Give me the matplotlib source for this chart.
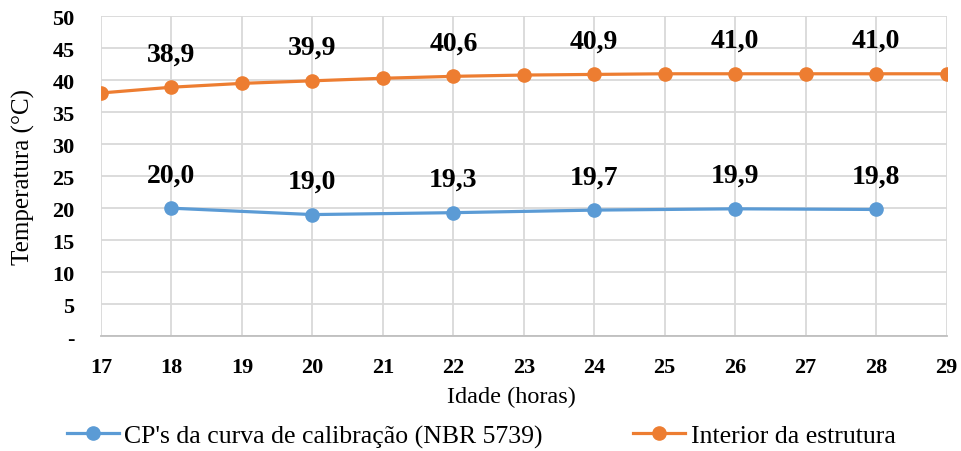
import matplotlib.pyplot as plt
from matplotlib.ticker import FixedLocator, FuncFormatter

plt.rcParams['font.family'] = ['Liberation Serif', 'DejaVu Serif']

# idade (horas) e temperaturas medidas
horas_cp = [18, 20, 22, 24, 26, 28]
temp_cp = [20.0, 19.0, 19.3, 19.7, 19.9, 19.8]

horas_est = [17, 18, 19, 20, 21, 22, 23, 24, 25, 26, 27, 28, 29]
temp_est = [38.0, 38.9, 39.5, 39.9, 40.3, 40.6, 40.8, 40.9, 41.0, 41.0, 41.0, 41.0, 41.0]
rotulos_est = [18, 20, 22, 24, 26, 28]  # horas com valor escrito

azul = '#5B9BD5'
laranja = '#ED7D31'

fig = plt.figure(figsize=(9.62, 4.52), dpi=100)
ax = fig.add_axes([0.105, 0.254, 0.879, 0.708])

ax.plot(horas_cp, temp_cp, color=azul, lw=2.3, marker='o', ms=9.5,
        label="CP's da curva de calibração (NBR 5739)", zorder=3)
ax.plot(horas_est, temp_est, color=laranja, lw=2.3, marker='o', ms=9.5,
        label='Interior da estrutura', zorder=3)


def rotulo(h, t):
    ax.annotate(f'{t:.1f}'.replace('.', ','), (h, t), xytext=(0, 24),
                textcoords='offset points', ha='center', va='center',
                fontsize=20, fontweight='bold')


for h, t in zip(horas_cp, temp_cp):
    rotulo(h, t)
for h, t in zip(horas_est, temp_est):
    if h in rotulos_est:
        rotulo(h, t)

ax.set_xlim(17, 29)
ax.set_ylim(0, 50)
ax.xaxis.set_major_locator(FixedLocator(range(17, 30)))
ax.yaxis.set_major_locator(FixedLocator(range(0, 51, 5)))
ax.yaxis.set_major_formatter(FuncFormatter(lambda v, p: '-' if v == 0 else f'{v:.0f}'))

ax.grid(True, color='#D9D9D9', lw=1.3)
ax.set_axisbelow(True)
for s in ['top', 'right', 'left']:
    ax.spines[s].set_visible(False)
ax.spines['bottom'].set_color('#BFBFBF')
ax.spines['bottom'].set_linewidth(1.3)
ax.tick_params(length=0)
ax.tick_params(axis='x', pad=15, labelsize=16)
ax.tick_params(axis='y', pad=19, labelsize=16)
for lb in ax.get_xticklabels() + ax.get_yticklabels():
    lb.set_fontweight('bold')

ax.set_xlabel('Idade (horas)', fontsize=17.5)
ax.set_ylabel('Temperatura (°C)', fontsize=18)
ax.xaxis.set_label_coords(0.485, -0.1875)
ax.xaxis.label.set_va('center')
ax.yaxis.set_label_coords(-0.092, 0.5)
ax.yaxis.label.set_va('center')

fig.legend(loc='center', bbox_to_anchor=(0.5, 1 - 437 / 452), ncol=2, frameon=False,
           fontsize=18.5, columnspacing=3.5, handlelength=2.05, handletextpad=0.2,
           borderpad=0)

fig.savefig('out.png', dpi=100)
